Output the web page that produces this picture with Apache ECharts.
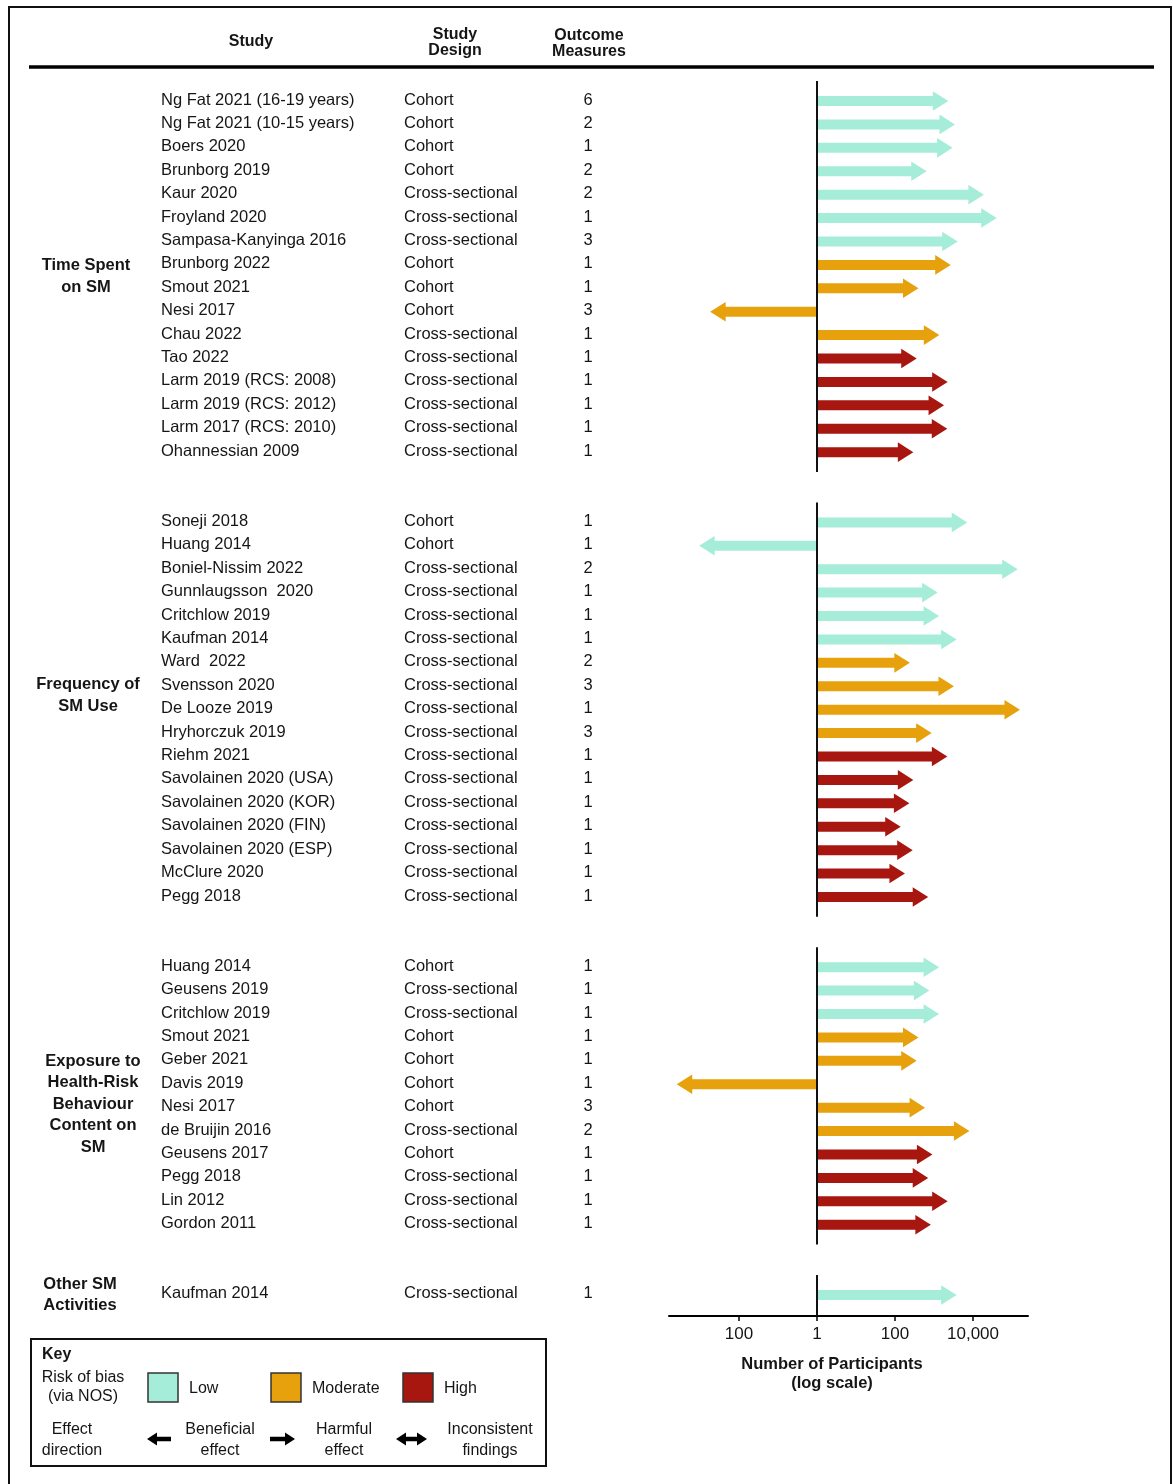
<!DOCTYPE html>
<html>
<head>
<meta charset="utf-8">
<title>Social media use and health-risk behaviour: study overview</title>
<script src="https://cdn.jsdelivr.net/npm/echarts@6/dist/echarts.min.js"></script>
<style>
  html, body { margin: 0; padding: 0; background: #ffffff; }
  #chart { width: 1173px; height: 1484px; }
</style>
</head>
<body>
<div id="chart"></div>
<script>
// ---- Data -----------------------------------------------------------------
const sectionLabels = [
  'Time Spent\non SM',
  'Frequency of\nSM Use',
  'Exposure to\nHealth-Risk\nBehaviour\nContent on\nSM',
  'Other SM\nActivities'
];
const sectionSizes = [16, 17, 12, 1];

const studies = [
  'Ng Fat 2021 (16-19 years)', 'Ng Fat 2021 (10-15 years)', 'Boers 2020', 'Brunborg 2019',
  'Kaur 2020', 'Froyland 2020', 'Sampasa-Kanyinga 2016', 'Brunborg 2022', 'Smout 2021',
  'Nesi 2017', 'Chau 2022', 'Tao 2022', 'Larm 2019 (RCS: 2008)', 'Larm 2019 (RCS: 2012)',
  'Larm 2017 (RCS: 2010)', 'Ohannessian 2009',
  'Soneji 2018', 'Huang 2014', 'Boniel-Nissim 2022', 'Gunnlaugsson  2020', 'Critchlow 2019',
  'Kaufman 2014', 'Ward  2022', 'Svensson 2020', 'De Looze 2019', 'Hryhorczuk 2019',
  'Riehm 2021', 'Savolainen 2020 (USA)', 'Savolainen 2020 (KOR)', 'Savolainen 2020 (FIN)',
  'Savolainen 2020 (ESP)', 'McClure 2020', 'Pegg 2018',
  'Huang 2014', 'Geusens 2019', 'Critchlow 2019', 'Smout 2021', 'Geber 2021', 'Davis 2019',
  'Nesi 2017', 'de Bruijin 2016', 'Geusens 2017', 'Pegg 2018', 'Lin 2012', 'Gordon 2011',
  'Kaufman 2014'
];

const designs = [
  'Cohort', 'Cohort', 'Cohort', 'Cohort', 'Cross-sectional', 'Cross-sectional', 'Cross-sectional',
  'Cohort', 'Cohort', 'Cohort', 'Cross-sectional', 'Cross-sectional', 'Cross-sectional',
  'Cross-sectional', 'Cross-sectional', 'Cross-sectional',
  'Cohort', 'Cohort', 'Cross-sectional', 'Cross-sectional', 'Cross-sectional', 'Cross-sectional',
  'Cross-sectional', 'Cross-sectional', 'Cross-sectional', 'Cross-sectional', 'Cross-sectional',
  'Cross-sectional', 'Cross-sectional', 'Cross-sectional', 'Cross-sectional', 'Cross-sectional',
  'Cross-sectional',
  'Cohort', 'Cross-sectional', 'Cross-sectional', 'Cohort', 'Cohort', 'Cohort', 'Cohort',
  'Cross-sectional', 'Cohort', 'Cross-sectional', 'Cross-sectional', 'Cross-sectional',
  'Cross-sectional'
];

const outcomeMeasures = [
  6, 2, 1, 2, 2, 1, 3, 1, 1, 3, 1, 1, 1, 1, 1, 1,
  1, 1, 2, 1, 1, 1, 2, 3, 1, 3, 1, 1, 1, 1, 1, 1, 1,
  1, 1, 1, 1, 1, 1, 3, 2, 1, 1, 1, 1,
  1
];

// Number of participants per study (plotted on a log10 scale)
const participants = [
  2330, 3450, 3000, 650, 19000, 40500, 4050, 2680, 400, 550, 1370, 360, 2240, 1810, 2190, 295,
  7100, 1050, 140000, 1240, 1350, 3800, 240, 3250, 160000, 870, 2200, 295, 234, 140, 284, 180, 710,
  1350, 760, 1350, 400, 360, 3950, 590, 8100, 910, 710, 2240, 830,
  3800
];

// Risk of bias via NOS: 0 = Low, 1 = Moderate, 2 = High
const riskOfBias = [
  0, 0, 0, 0, 0, 0, 0, 1, 1, 1, 1, 2, 2, 2, 2, 2,
  0, 0, 0, 0, 0, 0, 1, 1, 1, 1, 2, 2, 2, 2, 2, 2, 2,
  0, 0, 0, 1, 1, 1, 1, 1, 2, 2, 2, 2,
  0
];

// Effect direction: 1 = harmful, -1 = beneficial
const effectDirection = [
  1, 1, 1, 1, 1, 1, 1, 1, 1, -1, 1, 1, 1, 1, 1, 1,
  1, -1, 1, 1, 1, 1, 1, 1, 1, 1, 1, 1, 1, 1, 1, 1, 1,
  1, 1, 1, 1, 1, -1, 1, 1, 1, 1, 1, 1,
  1
];

const riskNames = ['Low', 'Moderate', 'High'];
const tickValues = [-2, 0, 2, 4];

// ---- Layout & style --------------------------------------------------------
const riskColors = ['#a6edd9', '#e6a10c', '#a8170f'];
const FONT = '"Liberation Sans", Arial, Helvetica, sans-serif';
const TEXT = '#151515';
const SECTION_GAP = 2;              // blank rows between sections
const labelRowShift = [0, -0.6, 0.35, 0];
const labelCenterX = [86, 88, 93, 80];

// Row position of every study, with blank rows between sections
const rowOf = [];
const sectionRanges = [];
{
  let r = 0;
  sectionSizes.forEach((n) => {
    sectionRanges.push([r, r + n - 1]);
    for (let k = 0; k < n; k++) rowOf.push(r + k);
    r += n + SECTION_GAP;
  });
}
const lastRow = rowOf[rowOf.length - 1];
const yMax = lastRow + 0.9;

const arrowData = participants.map((n, i) => [
  effectDirection[i] * Math.log10(n), rowOf[i], riskOfBias[i], i
]);
const tableData = studies.map((s, i) => [0, rowOf[i], i]);
const sectionLineData = sectionRanges.map((rg, s) => [
  0, rg[0] - 0.85, s === sectionRanges.length - 1 ? yMax : rg[1] + 0.85
]);
const sectionLabelData = sectionRanges.map((rg, s) => [0, (rg[0] + rg[1]) / 2 + labelRowShift[s], s]);

function fmtCount(v) {
  return Math.round(Math.pow(10, Math.abs(v))).toLocaleString('en-US');
}

function textEl(x, y, text, opt) {
  opt = opt || {};
  return {
    type: 'text',
    x: x, y: y,
    style: {
      text: text,
      fill: opt.fill || TEXT,
      font: (opt.bold ? 'bold ' : '') + (opt.size || 16.5) + 'px ' + FONT,
      textAlign: opt.align || 'left',
      textVerticalAlign: 'middle',
      lineHeight: opt.lineHeight || 21.5
    }
  };
}

function arrowPoints(x0, x1, y, hs, hh, hl) {
  const d = x1 >= x0 ? 1 : -1;
  const xb = x1 - d * hl;
  return [[x0, y - hs], [xb, y - hs], [xb, y - hh], [x1, y], [xb, y + hh], [xb, y + hs], [x0, y + hs]];
}

function doubleArrowPoints(x0, x1, y, hs, hh, hl) {
  return [[x0, y], [x0 + hl, y - hh], [x0 + hl, y - hs], [x1 - hl, y - hs], [x1 - hl, y - hh],
          [x1, y], [x1 - hl, y + hh], [x1 - hl, y + hs], [x0 + hl, y + hs], [x0 + hl, y + hh]];
}

// ---- Chart -----------------------------------------------------------------
const chart = echarts.init(document.getElementById('chart'), null, { renderer: 'canvas' });

const keyX = 31, keyY = 1339, keyW = 515, keyH = 127;

const graphics = [
  // outer frame
  { type: 'polyline', shape: { points: [[9, 1490], [9, 7], [1171, 7], [1171, 1490]] },
    style: { stroke: '#111', lineWidth: 2, fill: null } },
  // header rule
  { type: 'line', shape: { x1: 29, y1: 67, x2: 1154, y2: 67 }, style: { stroke: '#000', lineWidth: 3.5 } },
  textEl(251, 42, 'Study', { bold: true, size: 16, align: 'center' }),
  textEl(455, 43, 'Study\nDesign', { bold: true, size: 16, align: 'center', lineHeight: 16 }),
  textEl(589, 44, 'Outcome\nMeasures', { bold: true, size: 16, align: 'center', lineHeight: 16 }),
  // axis title
  textEl(832, 1374, 'Number of Participants\n(log scale)', { bold: true, size: 16.5, align: 'center', lineHeight: 18.5 }),
  // key box
  { type: 'rect', shape: { x: keyX, y: keyY, width: keyW, height: keyH },
    style: { stroke: '#111', lineWidth: 2, fill: '#fff' } },
  textEl(42, 1355, 'Key', { bold: true, size: 16 }),
  textEl(83, 1387, 'Risk of bias\n(via NOS)', { size: 16, align: 'center', lineHeight: 19 }),
  textEl(72, 1440, 'Effect\ndirection', { size: 16, align: 'center', lineHeight: 21 })
];

const keySquareX = [148, 271, 403];
const keyLabelX = [189, 312, 444];
riskNames.forEach((name, i) => {
  graphics.push({ type: 'rect', shape: { x: keySquareX[i], y: 1373, width: 30, height: 29 },
    style: { fill: riskColors[i], stroke: '#333', lineWidth: 1.5 } });
  graphics.push(textEl(keyLabelX[i], 1389, name, { size: 16 }));
});
// effect direction symbols
graphics.push({ type: 'polygon', shape: { points: arrowPoints(171, 147, 1439, 2.3, 6.5, 10) }, style: { fill: '#000' } });
graphics.push({ type: 'polygon', shape: { points: arrowPoints(270, 295, 1439, 2.3, 6.5, 10) }, style: { fill: '#000' } });
graphics.push({ type: 'polygon', shape: { points: doubleArrowPoints(396, 427, 1439, 2.3, 6.5, 10) }, style: { fill: '#000' } });
graphics.push(textEl(220, 1440, 'Beneficial\neffect', { size: 16, align: 'center', lineHeight: 21 }));
graphics.push(textEl(344, 1440, 'Harmful\neffect', { size: 16, align: 'center', lineHeight: 21 }));
graphics.push(textEl(490, 1440, 'Inconsistent\nfindings', { size: 16, align: 'center', lineHeight: 21 }));

const option = {
  backgroundColor: '#ffffff',
  animation: false,
  grid: { left: 669, width: 359, top: 77.6, height: 1316 - 77.6 },
  xAxis: {
    type: 'value',
    min: -3.795,
    max: 5.41,
    axisLine: { show: true, onZero: false, lineStyle: { color: '#000', width: 2 } },
    axisTick: { show: true, customValues: tickValues, length: 5, lineStyle: { color: '#000', width: 1.5 } },
    axisLabel: {
      customValues: tickValues,
      formatter: v => fmtCount(v),
      color: TEXT, fontSize: 17, fontFamily: FONT, margin: 10
    },
    splitLine: { show: false }
  },
  yAxis: {
    type: 'value',
    inverse: true,
    min: -1,
    max: yMax,
    show: false
  },
  graphic: { elements: graphics },
  series: [
    {
      // study rows: name, design, outcome measures
      type: 'custom',
      coordinateSystem: 'cartesian2d',
      clip: false,
      silent: true,
      encode: { x: 0, y: 1 },
      data: tableData,
      renderItem: (params, api) => {
        const i = api.value(2);
        const y = api.coord([0, api.value(1)])[1] - 1;
        return {
          type: 'group',
          children: [
            textEl(161, y, studies[i]),
            textEl(404, y, designs[i]),
            textEl(588, y, String(outcomeMeasures[i]), { align: 'center' })
          ]
        };
      }
    },
    {
      // section labels
      type: 'custom',
      coordinateSystem: 'cartesian2d',
      clip: false,
      silent: true,
      encode: { x: 0, y: 1 },
      data: sectionLabelData,
      renderItem: (params, api) => {
        const s = api.value(2);
        const y = api.coord([0, api.value(1)])[1];
        return textEl(labelCenterX[s], y, sectionLabels[s], { bold: true, align: 'center', lineHeight: 21.5 });
      }
    },
    {
      // participant arrows
      type: 'custom',
      coordinateSystem: 'cartesian2d',
      clip: false,
      silent: true,
      encode: { x: 0, y: 1 },
      data: arrowData,
      renderItem: (params, api) => {
        const row = api.value(1);
        const p0 = api.coord([0, row]);
        const p1 = api.coord([api.value(0), row]);
        return {
          type: 'polygon',
          shape: { points: arrowPoints(p0[0], p1[0], p0[1], 5, 9.8, 15.5) },
          style: { fill: riskColors[api.value(2)] }
        };
      }
    },
    {
      // reference line at one participant for each section
      type: 'custom',
      coordinateSystem: 'cartesian2d',
      clip: false,
      silent: true,
      encode: { x: 0, y: 1 },
      data: sectionLineData,
      z: 5,
      renderItem: (params, api) => {
        const a = api.coord([0, api.value(1)]);
        const b = api.coord([0, api.value(2)]);
        return {
          type: 'line',
          shape: { x1: a[0], y1: a[1], x2: b[0], y2: b[1] },
          style: { stroke: '#111', lineWidth: 2 }
        };
      }
    }
  ]
};

chart.setOption(option);
</script>
</body>
</html>
